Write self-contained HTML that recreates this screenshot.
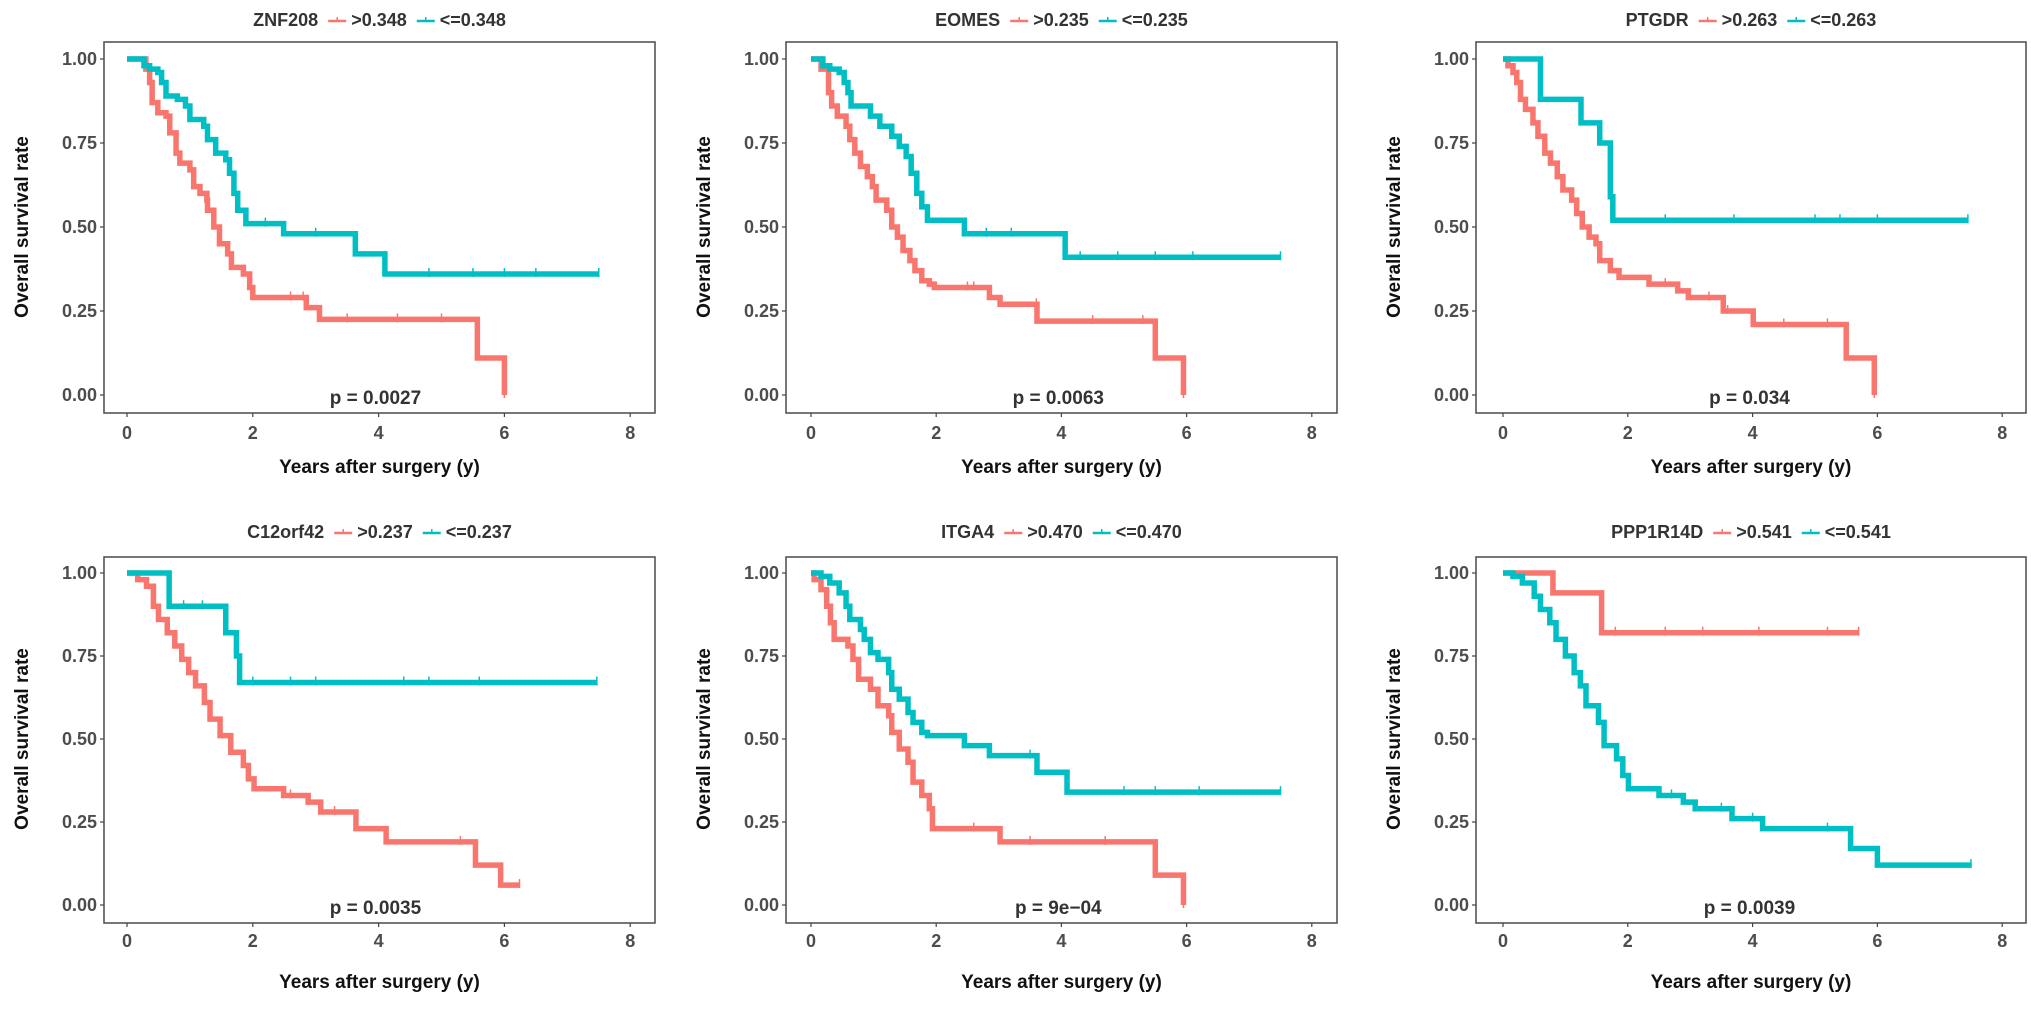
<!DOCTYPE html>
<html><head><meta charset="utf-8"><style>
html,body{margin:0;padding:0;background:#fff;}
svg{display:block;font-family:"Liberation Sans",Arial,sans-serif;}
</style></head><body>
<svg id="chart" width="2031" height="1009" viewBox="0 0 2031 1009" xmlns="http://www.w3.org/2000/svg"></svg>
<script>
// ---- data (time in years, survival rate) ----
const panelGenes = ["ZNF208","EOMES","PTGDR","C12orf42","ITGA4","PPP1R14D"];
const panelHigh = [">0.348",">0.235",">0.263",">0.237",">0.470",">0.541"];
const panelLow = ["<=0.348","<=0.235","<=0.263","<=0.237","<=0.470","<=0.541"];
const panelP = ["p = 0.0027","p = 0.0063","p = 0.034","p = 0.0035","p = 9e\u221204","p = 0.0039"];
const xTicks = [0,2,4,6,8];
const yTicks = [0,0.25,0.5,0.75,1];
const yTickLabels = ["0.00","0.25","0.50","0.75","1.00"];

const p1RedT = [0,0.3,0.36,0.4,0.49,0.62,0.68,0.78,0.84,1.0,1.06,1.16,1.27,1.28,1.38,1.47,1.6,1.66,1.85,1.95,2.0,2.85,3.06,5.57,6.0];
const p1RedS = [1,0.97,0.93,0.87,0.84,0.83,0.78,0.72,0.69,0.67,0.62,0.60,0.58,0.55,0.5,0.45,0.42,0.38,0.36,0.32,0.29,0.26,0.225,0.11,0];
const p1RedEnd = 6.0;
const p1TealT = [0,0.27,0.36,0.49,0.55,0.62,0.8,0.93,1.0,1.22,1.28,1.41,1.57,1.63,1.7,1.76,1.89,2.49,3.63,4.1];
const p1TealS = [1,0.98,0.97,0.96,0.93,0.89,0.88,0.86,0.82,0.80,0.76,0.72,0.70,0.66,0.60,0.55,0.51,0.48,0.42,0.36];
const p1TealEnd = 7.5;

const p2RedT = [0,0.16,0.28,0.33,0.42,0.56,0.62,0.7,0.79,0.9,0.98,1.04,1.21,1.29,1.38,1.47,1.58,1.66,1.77,1.89,1.97,2.85,3.02,3.61,5.5,5.95];
const p2RedS = [1,0.97,0.90,0.86,0.83,0.80,0.76,0.72,0.68,0.65,0.62,0.58,0.55,0.50,0.47,0.43,0.40,0.37,0.34,0.33,0.32,0.29,0.27,0.22,0.11,0];
const p2RedEnd = 5.95;
const p2TealT = [0,0.19,0.3,0.45,0.53,0.59,0.64,0.95,1.1,1.29,1.41,1.52,1.6,1.69,1.77,1.86,2.45,4.06];
const p2TealS = [1,0.98,0.97,0.96,0.93,0.90,0.86,0.83,0.80,0.77,0.74,0.71,0.66,0.60,0.56,0.52,0.48,0.41];
const p2TealEnd = 7.5;

const p3RedT = [0,0.08,0.16,0.22,0.28,0.36,0.48,0.56,0.67,0.76,0.87,0.96,1.1,1.18,1.27,1.38,1.49,1.55,1.72,1.86,2.34,2.8,2.97,3.53,4.01,5.5,5.95];
const p3RedS = [1,0.98,0.96,0.93,0.88,0.85,0.81,0.77,0.72,0.69,0.65,0.61,0.58,0.54,0.50,0.47,0.45,0.40,0.37,0.35,0.33,0.31,0.29,0.25,0.21,0.11,0];
const p3RedEnd = 5.95;
const p3TealT = [0,0.6,1.25,1.55,1.72,1.76];
const p3TealS = [1,0.88,0.81,0.75,0.59,0.52];
const p3TealEnd = 7.45;

const p4RedT = [0,0.17,0.31,0.42,0.5,0.64,0.76,0.87,0.98,1.09,1.23,1.32,1.48,1.65,1.85,1.93,2.02,2.49,2.88,3.08,3.64,4.12,5.54,5.94];
const p4RedS = [1,0.98,0.96,0.90,0.86,0.82,0.78,0.74,0.70,0.66,0.61,0.56,0.51,0.46,0.42,0.38,0.35,0.33,0.31,0.28,0.23,0.19,0.12,0.06];
const p4RedEnd = 6.24;
const p4TealT = [0,0.67,1.57,1.74,1.79];
const p4TealS = [1,0.90,0.82,0.75,0.67];
const p4TealEnd = 7.47;

const p5RedT = [0,0.05,0.16,0.25,0.31,0.37,0.59,0.67,0.76,0.95,1.07,1.24,1.29,1.41,1.55,1.63,1.77,1.89,1.94,3.02,5.5,5.95];
const p5RedS = [1,0.98,0.95,0.90,0.85,0.80,0.78,0.74,0.68,0.65,0.60,0.57,0.52,0.47,0.43,0.37,0.33,0.29,0.23,0.19,0.09,0];
const p5RedEnd = 5.95;
const p5TealT = [0,0.16,0.3,0.45,0.56,0.62,0.79,0.85,0.95,1.07,1.24,1.29,1.41,1.55,1.63,1.77,1.86,2.45,2.85,3.61,4.09];
const p5TealS = [1,0.99,0.97,0.94,0.90,0.86,0.83,0.80,0.76,0.74,0.70,0.65,0.62,0.58,0.55,0.52,0.51,0.48,0.45,0.40,0.34];
const p5TealEnd = 7.5;

const p6RedT = [0,0.8,1.58];
const p6RedS = [1,0.94,0.82];
const p6RedEnd = 5.7;
const p6TealT = [0,0.16,0.31,0.5,0.6,0.75,0.85,1.0,1.14,1.24,1.33,1.53,1.62,1.82,1.92,2.01,2.5,2.89,3.08,3.67,4.16,5.57,6.0];
const p6TealS = [1,0.99,0.97,0.93,0.89,0.85,0.80,0.75,0.70,0.66,0.60,0.55,0.48,0.44,0.39,0.35,0.33,0.31,0.29,0.26,0.23,0.17,0.12];
const p6TealEnd = 7.5;

const censorRed = [[2.6,2.8,3.5,4.3,5.0],[2.5,2.6,3.6,4.5,5.3],[2.6,3.3,3.6,4.5,5.2],[2.6,2.9,3.3,5.3],[2.6,3.5,4.7],[1.8,2.6,3.2,4.1,5.2]];
const censorTeal = [[2.2,3.0,4.8,5.5,6.0,6.5],[2.8,3.2,4.3,4.9,5.5,6.1],[2.6,3.7,5.0,5.4,6.0],[0.9,1.2,2.0,2.6,3.0,4.4,4.8,5.6],[3.5,5.0,5.5,6.2],[2.7,3.5,4.0,5.2]];

const tData = [[p1RedT,p1RedS,p1RedEnd,p1TealT,p1TealS,p1TealEnd],[p2RedT,p2RedS,p2RedEnd,p2TealT,p2TealS,p2TealEnd],[p3RedT,p3RedS,p3RedEnd,p3TealT,p3TealS,p3TealEnd],[p4RedT,p4RedS,p4RedEnd,p4TealT,p4TealS,p4TealEnd],[p5RedT,p5RedS,p5RedEnd,p5TealT,p5TealS,p5TealEnd],[p6RedT,p6RedS,p6RedEnd,p6TealT,p6TealS,p6TealEnd]];

// ---- layout ----
const boxX = [[104,655],[786,1337],[1476,2026]];
const x0s = [127,811,1503];
const perYear = [62.9,62.6,62.4];
const rows = [{top:42,bottom:413,y1:59,y0:395,title:20,tick:432,axt:466},{top:557,bottom:923,y1:573,y0:905,title:532,tick:940,axt:981}];
const RED="#F8766D", TEAL="#00BFC4";
const svg=document.getElementById('chart');
const NS="http://www.w3.org/2000/svg";
function mk(tag,attrs,parent){const e=document.createElementNS(NS,tag);for(const k in attrs)e.setAttribute(k,attrs[k]);(parent||svg).appendChild(e);return e;}

for(let i=0;i<6;i++){
  const col=i%3,row=rows[Math.floor(i/3)];
  const g=mk('g',{});
  
  
  const sx=t=>x0s[col]+t*perYear[col];
  const sy=s=>row.y0-(row.y0-row.y1)*s;
  const [L,R]=boxX[col];
  const box=mk('rect',{x:L,y:row.top,width:R-L,height:row.bottom-row.top,fill:'none',stroke:'#555','stroke-width':1.6},g);
  
  
  yTicks.forEach((v,k)=>{
    mk('line',{x1:L-4,x2:L,y1:sy(v),y2:sy(v),stroke:'#444','stroke-width':1.2},g);
    const t=mk('text',{x:L-7,y:sy(v)+6,'text-anchor':'end','font-size':18,'font-weight':'bold',fill:'#4d4d4d'},g);
    t.textContent=yTickLabels[k];
    
    
  });
  xTicks.forEach(v=>{
    mk('line',{x1:sx(v),x2:sx(v),y1:row.bottom,y2:row.bottom+4,stroke:'#444','stroke-width':1.2},g);
    const t=mk('text',{x:sx(v),y:row.tick+7,'text-anchor':'middle','font-size':18,'font-weight':'bold',fill:'#4d4d4d'},g);
    t.textContent=v;
    
    
  });
  const yt=mk('text',{x:0,y:0,'text-anchor':'middle','font-size':19,'font-weight':'bold',fill:'#111',transform:`translate(${L-76},${(row.y0+row.y1)/2}) rotate(-90)`},g);
  yt.textContent='Overall survival rate';
  
  
  const xt=mk('text',{x:(L+R)/2,y:row.axt+7,'text-anchor':'middle','font-size':19,'font-weight':'bold',fill:'#111'},g);
  xt.textContent='Years after surgery (y)';
  
  
  const d=tData[i];
  [[d[0],d[1],d[2],RED,censorRed[i],'high'],[d[3],d[4],d[5],TEAL,censorTeal[i],'low']].forEach(([T,S,end,c,cens,nm])=>{
    let p=`M${sx(T[0])},${sy(S[0])}`;
    for(let k=1;k<T.length;k++){p+=` H${sx(T[k])} V${sy(S[k])}`;}
    p+=` H${sx(end)}`;
    const path=mk('path',{d:p,fill:'none',stroke:c,'stroke-width':5.5,'stroke-linejoin':'miter'},g);
    
    
    const sAt=t=>{let s=S[0];for(let k=0;k<T.length;k++){if(T[k]<=t)s=S[k];}return s;};
    cens.concat([end]).forEach(t=>{
      const m=mk('line',{x1:sx(t),x2:sx(t),y1:sy(sAt(t))-6,y2:sy(sAt(t))+3,stroke:c,'stroke-width':1.5},g);
      
      
    });
  });
  const pt=mk('text',{x:sx(3.95),y:row.y0+9,'text-anchor':'middle','font-size':19,'font-weight':'bold',fill:'#333'},g);
  pt.textContent=panelP[i];
  
  
  const lg=mk('g',{},g);
  
  
  const tg=mk('text',{x:0,y:row.title+6,'font-size':18,'font-weight':'bold',fill:'#333'},lg);
  tg.textContent=panelGenes[i];
  
  
  const w1=tg.getComputedTextLength();
  let x=w1+10;
  const items=[[RED,panelHigh[i],'legend-entry-high'],[TEAL,panelLow[i],'legend-entry-low']];
  items.forEach(([c,lab,nm])=>{
    mk('line',{x1:x,x2:x+18,y1:row.title+1,y2:row.title+1,stroke:c,'stroke-width':2.5},lg);
    mk('line',{x1:x+9,x2:x+9,y1:row.title-3,y2:row.title+1,stroke:c,'stroke-width':1.5},lg);
    const tt=mk('text',{x:x+23,y:row.title+6,'font-size':18,'font-weight':'bold',fill:'#333'},lg);
    tt.textContent=lab;
    
    
    x+=23+tt.getComputedTextLength()+10;
  });
  const total=x-10;
  lg.setAttribute('transform',`translate(${(L+R)/2-total/2},0)`);
}
</script>
</body></html>
